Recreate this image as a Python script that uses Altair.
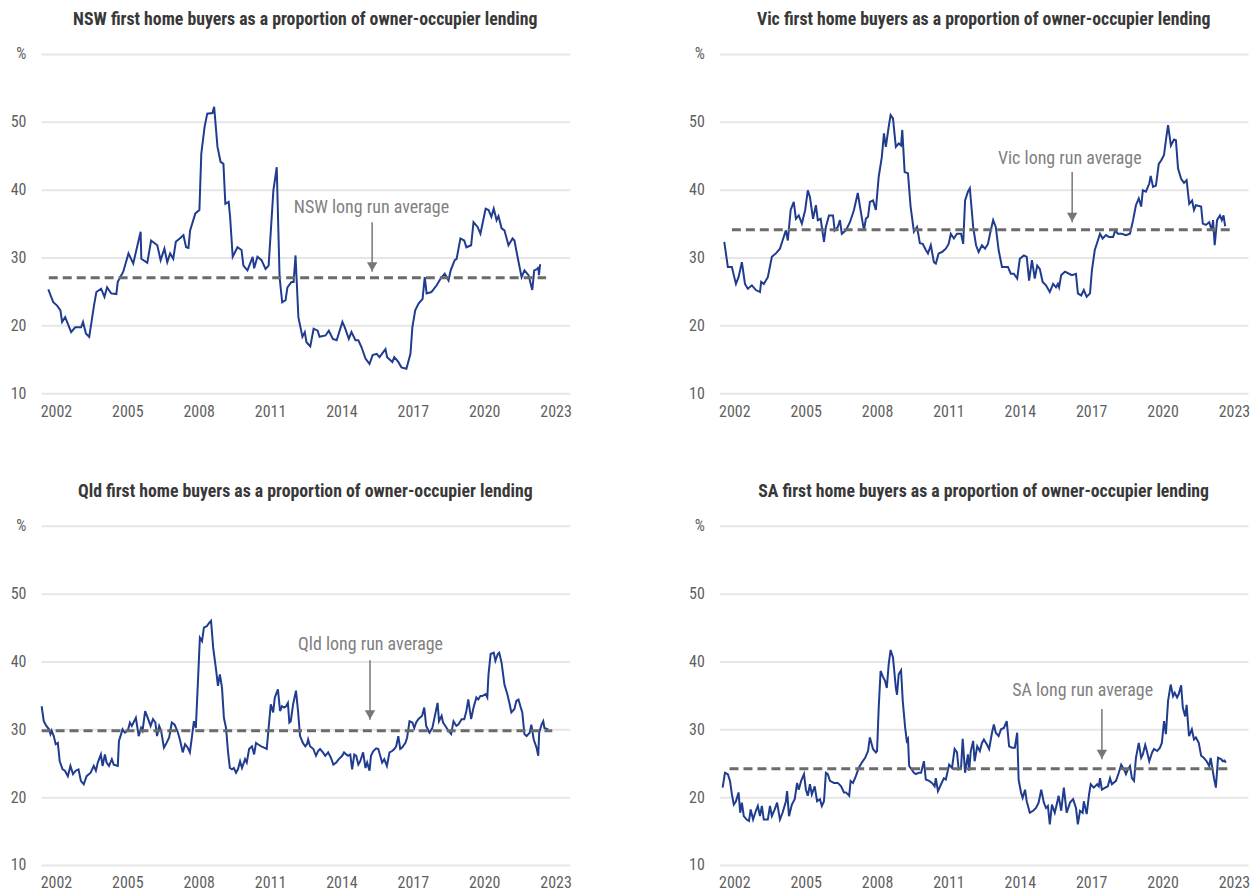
import altair as alt
import pandas as pd

FONT = "Roboto Condensed"

# ---------------- data ----------------
NSW_T = [2001.68, 2001.89, 2002.05, 2002.19, 2002.26, 2002.39, 2002.64, 2002.81, 2003.06, 2003.14,
         2003.26, 2003.40, 2003.60, 2003.70, 2003.90, 2004.04, 2004.15, 2004.32, 2004.54, 2004.60,
         2004.83, 2005.05, 2005.25, 2005.56, 2005.59, 2005.84, 2006.00, 2006.26, 2006.40, 2006.56,
         2006.68, 2006.80, 2006.93, 2007.04, 2007.24, 2007.36, 2007.47, 2007.57, 2007.64, 2007.86,
         2008.03, 2008.11, 2008.25, 2008.36, 2008.58, 2008.65, 2008.79, 2008.92, 2009.04, 2009.12,
         2009.26, 2009.32, 2009.43, 2009.63, 2009.80, 2009.88, 2010.05, 2010.27, 2010.33, 2010.47,
         2010.64, 2010.81, 2010.94, 2011.14, 2011.28, 2011.40, 2011.51, 2011.65, 2011.73, 2011.90,
         2011.99, 2012.07, 2012.19, 2012.36, 2012.46, 2012.53, 2012.69, 2012.83, 2013.00, 2013.08,
         2013.33, 2013.47, 2013.64, 2013.80, 2014.04, 2014.14, 2014.31, 2014.42, 2014.59, 2014.71,
         2014.84, 2015.01, 2015.18, 2015.31, 2015.48, 2015.60, 2015.85, 2015.92, 2016.14, 2016.22,
         2016.39, 2016.52, 2016.73, 2016.90, 2016.98, 2017.10, 2017.24, 2017.41, 2017.50, 2017.58,
         2017.78, 2018.00, 2018.17, 2018.34, 2018.50, 2018.59, 2018.76, 2018.84, 2019.00, 2019.16,
         2019.25, 2019.45, 2019.55, 2019.72, 2019.84, 2019.93, 2020.06, 2020.18, 2020.30, 2020.40,
         2020.52, 2020.60, 2020.73, 2020.85, 2021.02, 2021.19, 2021.27, 2021.40, 2021.57, 2021.69,
         2021.86, 2022.02, 2022.10, 2022.24, 2022.28, 2022.30, 2022.35]
NSW_V = [25.3, 23.4, 22.9, 22.2, 20.5, 21.2, 19.0, 19.7, 19.7, 20.5,
         18.8, 18.3, 22.9, 24.9, 25.4, 24.2, 25.6, 24.7, 24.6, 26.4,
         27.9, 30.6, 29.1, 33.8, 29.8, 29.2, 32.5, 31.8, 29.6, 31.3,
         29.3, 30.6, 29.8, 32.3, 32.9, 33.3, 31.5, 31.4, 34.0, 36.5,
         37.0, 45.3, 49.3, 51.2, 51.3, 52.2, 46.3, 44.1, 43.8, 37.9,
         38.2, 36.0, 30.1, 31.5, 31.1, 28.8, 28.1, 30.1, 28.4, 30.1,
         29.6, 28.3, 28.8, 39.9, 43.3, 27.1, 23.4, 23.7, 25.6, 26.4,
         26.4, 30.3, 21.2, 18.3, 19.0, 17.5, 16.9, 19.5, 19.2, 18.3,
         18.5, 19.2, 18.0, 17.8, 20.5, 19.7, 18.0, 19.0, 17.8, 17.8,
         16.8, 15.1, 14.3, 15.6, 15.8, 15.3, 16.5, 15.3, 14.6, 15.3,
         14.6, 13.8, 13.6, 15.8, 19.7, 22.2, 23.2, 23.9, 27.1, 24.7,
         24.9, 25.9, 26.9, 27.6, 26.6, 28.1, 29.6, 29.8, 32.8, 32.5,
         31.5, 31.8, 35.2, 34.5, 33.5, 35.0, 37.2, 37.0, 36.0, 37.2,
         35.5, 36.1, 34.3, 34.0, 31.8, 32.8, 32.5, 30.1, 27.1, 28.1,
         27.4, 25.2, 28.1, 28.3, 28.6, 27.4, 29.0]

VIC_T = [2001.58, 2001.73, 2001.90, 2001.98, 2002.07, 2002.18, 2002.32, 2002.45, 2002.57, 2002.74,
         2002.91, 2003.08, 2003.13, 2003.24, 2003.41, 2003.58, 2003.75, 2003.92, 2004.03, 2004.17,
         2004.25, 2004.37, 2004.50, 2004.59, 2004.71, 2004.84, 2004.98, 2005.09, 2005.18, 2005.31,
         2005.43, 2005.51, 2005.63, 2005.77, 2005.85, 2005.98, 2006.15, 2006.22, 2006.35, 2006.44,
         2006.52, 2006.69, 2006.86, 2007.03, 2007.19, 2007.33, 2007.45, 2007.53, 2007.62, 2007.70,
         2007.83, 2007.95, 2008.07, 2008.20, 2008.29, 2008.37, 2008.49, 2008.57, 2008.67, 2008.79,
         2008.91, 2009.01, 2009.06, 2009.16, 2009.30, 2009.41, 2009.55, 2009.68, 2009.80, 2009.92,
         2010.05, 2010.14, 2010.26, 2010.39, 2010.47, 2010.59, 2010.73, 2010.89, 2011.01, 2011.10,
         2011.23, 2011.36, 2011.53, 2011.62, 2011.70, 2011.82, 2011.90, 2012.04, 2012.16, 2012.27,
         2012.41, 2012.54, 2012.66, 2012.78, 2012.88, 2012.99, 2013.11, 2013.25, 2013.38, 2013.50,
         2013.62, 2013.75, 2013.89, 2014.00, 2014.17, 2014.29, 2014.39, 2014.51, 2014.63, 2014.73,
         2014.84, 2014.96, 2015.10, 2015.26, 2015.40, 2015.52, 2015.60, 2015.65, 2015.74, 2015.90,
         2016.07, 2016.19, 2016.36, 2016.44, 2016.58, 2016.69, 2016.81, 2016.95, 2017.03, 2017.15,
         2017.28, 2017.37, 2017.48, 2017.62, 2017.75, 2017.92, 2018.01, 2018.12, 2018.29, 2018.46,
         2018.63, 2018.76, 2018.88, 2019.00, 2019.10, 2019.17, 2019.30, 2019.44, 2019.50, 2019.60,
         2019.72, 2019.84, 2019.94, 2020.06, 2020.14, 2020.23, 2020.35, 2020.48, 2020.56, 2020.65,
         2020.78, 2020.90, 2021.01, 2021.12, 2021.24, 2021.32, 2021.40, 2021.62, 2021.69, 2021.82,
         2021.96, 2022.07, 2022.12, 2022.19, 2022.29, 2022.41, 2022.49, 2022.56, 2022.63]
VIC_V = [32.3, 28.6, 28.6, 27.4, 26.1, 27.1, 29.3, 26.1, 25.4, 25.9,
         25.2, 24.9, 26.4, 26.1, 27.1, 30.1, 30.6, 31.3, 32.5, 34.0,
         32.5, 37.0, 38.2, 35.7, 36.2, 35.0, 37.0, 39.9, 38.9, 35.7,
         37.7, 35.5, 35.7, 32.3, 34.5, 36.2, 36.2, 34.0, 34.5, 35.5,
         33.5, 34.0, 35.2, 37.0, 39.5, 36.5, 34.0, 35.7, 36.0, 38.2,
         38.4, 37.0, 41.9, 44.8, 48.3, 46.3, 49.3, 51.0, 50.5, 46.3,
         46.8, 46.5, 48.8, 42.6, 42.4, 37.5, 33.8, 34.5, 32.1, 32.0,
         31.1, 30.6, 31.8, 29.3, 29.1, 30.6, 30.8, 31.3, 32.0, 33.5,
         32.8, 33.5, 33.5, 32.0, 38.4, 39.7, 40.2, 34.5, 31.8, 30.8,
         31.8, 31.3, 32.0, 34.0, 35.5, 34.5, 31.1, 28.6, 28.6, 28.6,
         27.6, 27.6, 26.9, 29.8, 30.3, 30.1, 26.6, 29.6, 26.9, 28.8,
         28.3, 26.4, 25.9, 24.9, 26.1, 25.6, 26.1, 25.6, 27.4, 27.9,
         27.6, 27.4, 27.6, 24.7, 24.4, 25.2, 24.2, 24.7, 28.1, 31.1,
         32.5, 33.5, 32.8, 33.3, 33.0, 33.0, 34.0, 33.5, 33.5, 33.3,
         33.5, 35.5, 37.7, 38.7, 37.5, 39.9, 39.7, 40.9, 42.0, 40.4,
         40.6, 43.8, 44.3, 45.1, 47.3, 49.5, 46.5, 47.4, 47.3, 43.1,
         41.6, 41.0, 41.4, 37.9, 38.4, 37.0, 37.7, 37.5, 35.0, 34.8,
         35.2, 34.0, 35.5, 31.8, 35.5, 36.2, 35.5, 36.2, 34.6]

QLD_T = [2001.40, 2001.49, 2001.60, 2001.71, 2001.77, 2001.82, 2001.91, 2001.99, 2002.08, 2002.16,
         2002.28, 2002.38, 2002.50, 2002.61, 2002.72, 2002.83, 2002.95, 2003.05, 2003.17, 2003.29,
         2003.46, 2003.59, 2003.68, 2003.76, 2003.89, 2003.96, 2004.06, 2004.13, 2004.23, 2004.35,
         2004.43, 2004.60, 2004.65, 2004.74, 2004.80, 2004.90, 2005.02, 2005.11, 2005.19, 2005.36,
         2005.48, 2005.58, 2005.64, 2005.75, 2005.86, 2005.98, 2006.08, 2006.18, 2006.25, 2006.34,
         2006.42, 2006.54, 2006.65, 2006.76, 2006.87, 2006.99, 2007.13, 2007.21, 2007.33, 2007.43,
         2007.54, 2007.63, 2007.72, 2007.80, 2007.88, 2007.97, 2008.05, 2008.14, 2008.22, 2008.34,
         2008.44, 2008.52, 2008.61, 2008.72, 2008.81, 2008.89, 2008.98, 2009.06, 2009.15, 2009.23,
         2009.31, 2009.40, 2009.48, 2009.57, 2009.65, 2009.74, 2009.82, 2009.95, 2010.02, 2010.12,
         2010.24, 2010.33, 2010.41, 2010.49, 2010.63, 2010.75, 2010.86, 2010.96, 2011.03, 2011.13,
         2011.20, 2011.33, 2011.42, 2011.50, 2011.59, 2011.67, 2011.75, 2011.81, 2011.87, 2011.97,
         2012.09, 2012.18, 2012.26, 2012.38, 2012.48, 2012.55, 2012.60, 2012.68, 2012.82, 2012.93,
         2013.02, 2013.10, 2013.22, 2013.32, 2013.44, 2013.56, 2013.66, 2013.78, 2013.89, 2014.03,
         2014.11, 2014.20, 2014.28, 2014.37, 2014.45, 2014.54, 2014.62, 2014.71, 2014.79, 2014.91,
         2015.01, 2015.08, 2015.18, 2015.24, 2015.34, 2015.46, 2015.55, 2015.63, 2015.71, 2015.80,
         2015.91, 2016.02, 2016.13, 2016.22, 2016.30, 2016.39, 2016.47, 2016.55, 2016.69, 2016.76,
         2016.86, 2016.98, 2017.06, 2017.14, 2017.23, 2017.39, 2017.48, 2017.56, 2017.70, 2017.82,
         2017.94, 2018.04, 2018.10, 2018.21, 2018.27, 2018.37, 2018.49, 2018.61, 2018.71, 2018.83,
         2018.91, 2019.05, 2019.16, 2019.25, 2019.33, 2019.45, 2019.55, 2019.67, 2019.75, 2019.84,
         2019.92, 2020.06, 2020.13, 2020.18, 2020.27, 2020.40, 2020.47, 2020.57, 2020.63, 2020.73,
         2020.85, 2020.97, 2021.07, 2021.14, 2021.27, 2021.35, 2021.44, 2021.52, 2021.60, 2021.69,
         2021.78, 2021.91, 2021.98, 2022.08, 2022.20, 2022.27, 2022.31, 2022.41, 2022.48, 2022.53,
         2022.69]
QLD_V = [33.4, 31.2, 30.5, 30.0, 29.3, 29.8, 29.0, 27.8, 28.0, 25.3,
         24.1, 23.9, 23.1, 24.6, 23.4, 23.9, 24.1, 22.4, 21.9, 23.1,
         23.6, 24.6, 23.9, 25.1, 26.3, 24.6, 26.3, 25.1, 24.6, 25.6,
         24.8, 24.6, 28.3, 29.3, 30.0, 29.5, 29.8, 31.0, 30.5, 31.7,
         29.0, 30.2, 29.8, 32.7, 31.7, 30.5, 31.5, 31.0, 29.0, 30.5,
         29.8, 27.3, 28.0, 28.8, 31.0, 30.7, 29.5, 28.5, 26.6, 27.8,
         27.3, 26.6, 29.0, 31.2, 30.2, 37.1, 43.5, 43.0, 45.0, 45.2,
         45.7, 46.0, 42.0, 39.1, 36.4, 38.1, 36.1, 31.7, 30.2, 26.8,
         24.3, 24.1, 24.3, 23.6, 24.1, 25.3, 24.3, 25.6, 25.1, 27.1,
         27.5, 26.3, 28.0, 27.8, 27.5, 27.3, 27.1, 31.0, 33.7, 32.5,
         34.7, 35.9, 32.7, 33.4, 33.2, 33.4, 33.9, 31.0, 31.2, 33.7,
         35.7, 32.5, 29.0, 28.0, 27.5, 27.8, 28.5, 27.5, 27.1, 26.1,
         26.8, 27.1, 26.6, 26.1, 26.6, 25.8, 24.8, 25.1, 25.6, 26.1,
         26.6, 26.3, 26.1, 26.3, 24.1, 26.3, 26.1, 24.8, 25.3, 26.6,
         24.3, 25.1, 23.9, 26.1, 26.8, 27.2, 27.1, 26.1, 25.1, 25.6,
         24.6, 26.6, 26.8, 27.1, 27.5, 29.0, 27.1, 27.3, 28.0, 28.8,
         31.2, 31.0, 30.2, 31.0, 31.5, 32.0, 33.2, 30.5, 29.5, 30.2,
         32.2, 33.9, 31.2, 32.0, 31.0, 30.5, 29.8, 29.3, 31.2, 30.5,
         30.7, 31.5, 31.5, 32.7, 34.4, 31.5, 33.2, 34.7, 34.4, 34.9,
         34.9, 35.2, 34.7, 38.1, 41.1, 41.3, 40.1, 41.1, 41.3, 39.8,
         36.6, 35.2, 33.7, 32.5, 33.0, 34.2, 34.4, 33.4, 32.5, 29.3,
         29.0, 29.5, 30.7, 28.5, 27.3, 26.1, 29.5, 30.7, 31.2, 30.2,
         30.0]

SA_T = [2001.51, 2001.61, 2001.73, 2001.82, 2001.90, 2001.98, 2002.07, 2002.18, 2002.25, 2002.32,
        2002.40, 2002.52, 2002.62, 2002.69, 2002.79, 2002.91, 2002.99, 2003.08, 2003.16, 2003.24,
        2003.41, 2003.50, 2003.58, 2003.70, 2003.80, 2003.92, 2004.03, 2004.17, 2004.22, 2004.30,
        2004.42, 2004.54, 2004.64, 2004.71, 2004.81, 2004.93, 2005.01, 2005.09, 2005.18, 2005.26,
        2005.38, 2005.48, 2005.60, 2005.68, 2005.77, 2005.85, 2005.93, 2006.02, 2006.19, 2006.35,
        2006.49, 2006.61, 2006.69, 2006.83, 2006.89, 2006.99, 2007.11, 2007.23, 2007.36, 2007.50,
        2007.62, 2007.70, 2007.83, 2007.95, 2008.00, 2008.07, 2008.15, 2008.24, 2008.34, 2008.41,
        2008.49, 2008.57, 2008.67, 2008.79, 2008.84, 2008.91, 2009.01, 2009.08, 2009.18, 2009.25,
        2009.30, 2009.35, 2009.45, 2009.55, 2009.63, 2009.75, 2009.85, 2009.97, 2010.05, 2010.19,
        2010.31, 2010.42, 2010.47, 2010.56, 2010.69, 2010.81, 2010.89, 2011.03, 2011.15, 2011.26,
        2011.36, 2011.43, 2011.53, 2011.60, 2011.70, 2011.82, 2011.87, 2011.94, 2012.04, 2012.10,
        2012.21, 2012.32, 2012.41, 2012.49, 2012.61, 2012.71, 2012.83, 2012.91, 2012.99, 2013.11,
        2013.21, 2013.33, 2013.45, 2013.55, 2013.67, 2013.79, 2013.89, 2013.95, 2014.05, 2014.12,
        2014.22, 2014.29, 2014.42, 2014.56, 2014.68, 2014.79, 2014.90, 2015.01, 2015.10, 2015.18,
        2015.26, 2015.35, 2015.47, 2015.57, 2015.63, 2015.74, 2015.85, 2015.97, 2016.11, 2016.24,
        2016.36, 2016.44, 2016.53, 2016.64, 2016.69, 2016.81, 2016.91, 2016.98, 2017.11, 2017.25,
        2017.32, 2017.37, 2017.45, 2017.59, 2017.70, 2017.79, 2017.87, 2018.04, 2018.16, 2018.26,
        2018.38, 2018.46, 2018.54, 2018.63, 2018.71, 2018.80, 2018.88, 2019.00, 2019.10, 2019.17,
        2019.27, 2019.34, 2019.44, 2019.56, 2019.64, 2019.77, 2019.89, 2019.97, 2020.06, 2020.14,
        2020.23, 2020.34, 2020.44, 2020.51, 2020.61, 2020.68, 2020.78, 2020.85, 2020.95, 2021.01,
        2021.11, 2021.23, 2021.32, 2021.40, 2021.52, 2021.62, 2021.73, 2021.85, 2021.96, 2022.02,
        2022.09, 2022.16, 2022.24, 2022.33, 2022.46, 2022.53, 2022.60, 2022.66]
SA_V = [21.4, 23.6, 23.4, 22.4, 20.4, 18.9, 19.4, 20.7, 17.7, 19.2,
        17.2, 16.7, 16.5, 18.2, 16.7, 18.0, 18.7, 17.2, 18.7, 16.7,
        16.7, 18.7, 17.2, 18.2, 19.2, 16.7, 17.7, 19.4, 20.9, 17.2,
        18.9, 19.7, 22.1, 21.1, 22.4, 23.4, 21.1, 20.2, 21.9, 20.4,
        21.6, 19.4, 19.7, 18.7, 19.4, 23.6, 23.4, 22.4, 22.1, 22.1,
        21.6, 20.7, 20.7, 20.2, 22.4, 22.1, 23.1, 24.3, 25.1, 25.8,
        26.8, 28.8, 27.1, 26.6, 26.8, 33.2, 38.6, 37.8, 37.1, 36.1,
        39.6, 41.7, 40.6, 36.1, 35.1, 38.1, 38.7, 34.2, 30.3, 28.3,
        28.6, 24.6, 24.1, 23.6, 23.4, 23.6, 23.6, 25.3, 22.6, 22.4,
        22.1, 21.6, 22.8, 20.9, 21.9, 22.8, 22.6, 24.8, 24.3, 27.1,
        26.6, 24.1, 24.3, 28.6, 23.6, 26.3, 23.9, 26.8, 28.3, 25.3,
        27.5, 26.8, 28.0, 28.5, 27.8, 27.1, 29.5, 30.7, 29.5, 29.0,
        30.0, 30.2, 31.2, 27.5, 27.3, 27.3, 29.5, 22.6, 20.7, 19.9,
        21.1, 19.4, 17.7, 18.0, 18.4, 19.2, 21.1, 19.2, 18.4, 18.7,
        16.0, 18.9, 17.7, 19.2, 20.2, 18.0, 21.4, 17.7, 19.2, 19.7,
        18.4, 16.0, 18.0, 17.7, 19.4, 17.5, 20.4, 21.9, 21.4, 21.9,
        21.6, 22.8, 21.1, 21.4, 21.6, 22.8, 21.9, 22.4, 23.6, 24.8,
        24.1, 23.4, 24.1, 24.6, 22.8, 22.4, 25.8, 28.0, 25.8, 26.3,
        27.7, 26.8, 25.3, 26.6, 27.1, 26.8, 27.3, 28.0, 31.2, 29.3,
        34.2, 36.6, 34.9, 35.4, 34.7, 35.2, 36.5, 33.2, 31.9, 33.6,
        29.0, 30.0, 28.5, 28.8, 28.0, 26.1, 25.8, 25.3, 24.6, 25.8,
        24.3, 22.8, 21.4, 25.8, 25.6, 25.3, 25.4, 25.1]

STATES = ["NSW", "Vic", "Qld", "SA"]
SERIES_T = [NSW_T, VIC_T, QLD_T, SA_T]
SERIES_V = [NSW_V, VIC_V, QLD_V, SA_V]
AVERAGES = [27.0, 34.1, 29.8, 24.2]
AVG_START = [2001.70, 2001.90, 2001.40, 2001.80]
AVG_END = [2022.60, 2022.83, 2022.86, 2022.75]
LABEL_X = [2015.26, 2016.10, 2015.22, 2016.64]
LABEL_Y = [37.3, 44.5, 42.5, 35.7]
ARROW_X = [2015.29, 2016.20, 2015.20, 2017.45]
ARROW_TOP = [35.2, 42.6, 40.2, 33.0]
ARROW_TIP = [27.9, 35.2, 31.4, 25.6]

YEAR_TICKS = [2002, 2005, 2008, 2011, 2014, 2017, 2020, 2023]
Y_TICKS = [10, 20, 30, 40, 50, 60]
X_DOMAIN = [2001.37, 2023.59]
Y_DOMAIN = [10, 60]

LINE_COLOR = "#1f3c8f"
AVG_COLOR = "#6b6b6b"
NOTE_COLOR = "#808080"
LABEL_COLOR = "#5f5f5f"
TITLE_COLOR = "#383838"


def xenc(field="year"):
    return alt.X(
        f"{field}:Q",
        title=None,
        scale=alt.Scale(domain=X_DOMAIN, nice=False, zero=False),
        axis=alt.Axis(values=YEAR_TICKS, format="d", grid=False, domain=False,
                      ticks=False, tickSize=0, labelPadding=10, labelFont=FONT,
                      labelFontSize=16, labelColor=LABEL_COLOR, labelOverlap=False),
    )


def yenc(field="value"):
    return alt.Y(
        f"{field}:Q",
        title=None,
        scale=alt.Scale(domain=Y_DOMAIN, nice=False, zero=False),
        axis=alt.Axis(values=Y_TICKS, labelExpr="datum.value == 60 ? '%' : datum.label",
                      grid=True, gridColor="#e6e6e6", gridWidth=2, domain=False,
                      ticks=False, tickSize=0, labelPadding=15, labelFont=FONT,
                      labelFontSize=16, labelColor=LABEL_COLOR,
                      minExtent=32, maxExtent=32),
    )


def panel(i):
    name = STATES[i]
    df = pd.DataFrame({"year": SERIES_T[i], "value": SERIES_V[i]})
    line = alt.Chart(df).mark_line(color=LINE_COLOR, strokeWidth=2).encode(x=xenc(), y=yenc())

    avg_df = pd.DataFrame({"year": [AVG_START[i]], "year2": [AVG_END[i]], "value": [AVERAGES[i]]})
    avg = alt.Chart(avg_df).mark_rule(color=AVG_COLOR, strokeWidth=3, strokeDash=[9, 5]).encode(
        x=xenc(), x2="year2:Q", y=yenc())

    note_df = pd.DataFrame({"year": [LABEL_X[i]], "value": [LABEL_Y[i]],
                            "label": [f"{name} long run average"]})
    note = alt.Chart(note_df).mark_text(font=FONT, fontSize=18, color=NOTE_COLOR,
                                        align="center", baseline="middle").encode(
        x=xenc(), y=yenc(), text="label:N")

    arrow_df = pd.DataFrame({"year": [ARROW_X[i]], "value": [ARROW_TOP[i]], "value2": [ARROW_TIP[i]]})
    shaft = alt.Chart(arrow_df).mark_rule(color="#777777", strokeWidth=1.5).encode(
        x=xenc(), y=yenc(), y2="value2:Q")
    head_df = pd.DataFrame({"year": [ARROW_X[i]], "value": [ARROW_TIP[i]]})
    head = alt.Chart(head_df).mark_point(shape="triangle-down", filled=True, color="#777777",
                                         size=110, opacity=1, yOffset=-5).encode(x=xenc(), y=yenc())

    title = alt.TitleParams(
        text=f"{name} first home buyers as a proportion of owner-occupier lending",
        font=FONT, fontSize=17.8, fontWeight="bold", color=TITLE_COLOR,
        anchor="middle", frame="group", offset=17,
    )
    return alt.layer(line, avg, shaft, head, note).properties(width=530, height=340, title=title)


top = alt.hconcat(panel(0), panel(1), spacing=114)
bottom = alt.hconcat(panel(2), panel(3), spacing=114)
chart = alt.vconcat(top, bottom, spacing=62).configure(
    padding={"left": 0, "top": 1, "right": 0, "bottom": 0},
    background="white",
).configure_view(stroke="transparent")

chart.save("out.html", embed_options={"renderer": "svg", "actions": False})
